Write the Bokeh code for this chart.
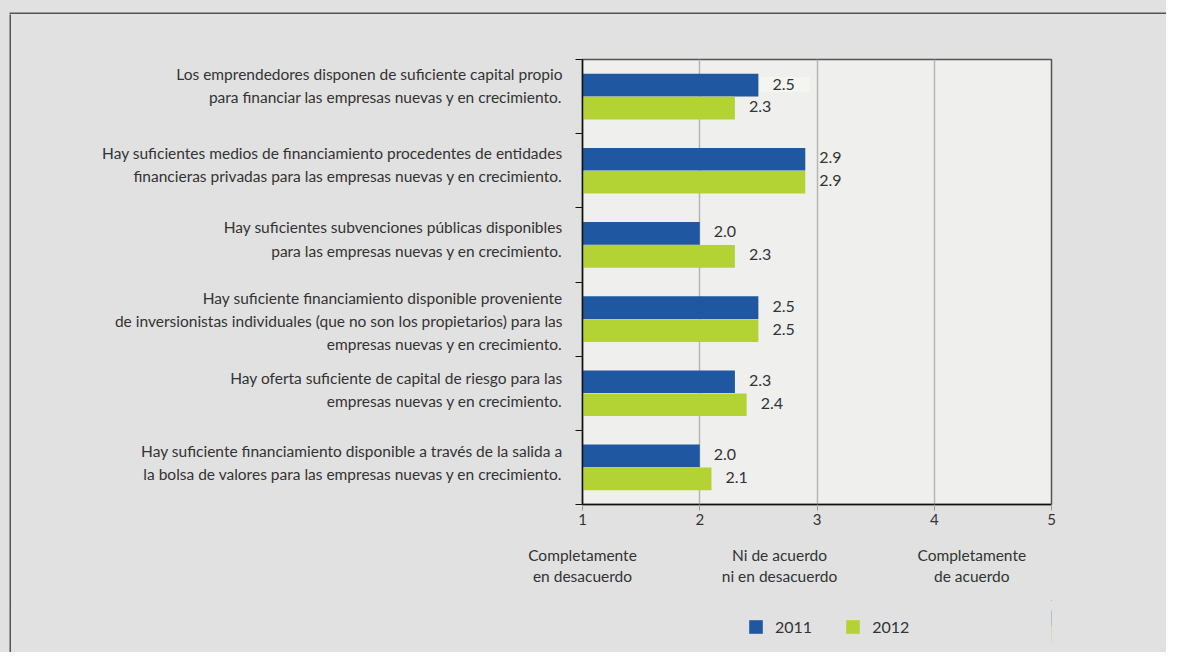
from bokeh.plotting import figure
from bokeh.layouts import column, row
from bokeh.models import (FixedTicker, LinearAxis, Range1d, Legend, LegendItem,
                          ColumnDataSource, CDSView, IndexFilter)
from bokeh.core.properties import value
from bokeh.embed import file_html
from bokeh.resources import INLINE

# ---------------- data ----------------
statements = [
    "Los emprendedores disponen de suficiente capital propio\npara financiar las empresas nuevas y en crecimiento.",
    "Hay suficientes medios de financiamiento procedentes de entidades\nfinancieras privadas para las empresas nuevas y en crecimiento.",
    "Hay suficientes subvenciones públicas disponibles\npara las empresas nuevas y en crecimiento.",
    "Hay suficiente financiamiento disponible proveniente\nde inversionistas individuales (que no son los propietarios) para las\nempresas nuevas y en crecimiento.",
    "Hay oferta suficiente de capital de riesgo para las\nempresas nuevas y en crecimiento.",
    "Hay suficiente financiamiento disponible a través de la salida a\nla bolsa de valores para las empresas nuevas y en crecimiento.",
]
values_2011 = [2.5, 2.9, 2.0, 2.5, 2.3, 2.0]
values_2012 = [2.3, 2.9, 2.3, 2.5, 2.4, 2.1]
series_names = ["2011", "2012"]
x_ticks = [1, 2, 3, 4, 5]
scale_labels = ["Completamente\nen desacuerdo", "Ni de acuerdo\nni en desacuerdo", "Completamente\nde acuerdo"]
scale_label_positions = [1.0, 2.68, 4.32]

# ---------------- style ----------------
FONT = "Lato"
BLUE = "#1f58a0"
GREEN = "#b3d334"
TXT = "#333333"
PAGE_BG = "#e1e1e1"
PLOT_BG = "#efefed"
EDGE = "#555555"
W, H = 1166, 652
TOP_H, LEFT_W, LEG_H = 14, 11, 52
MAIN_W, MAIN_H = W - LEFT_W, H - TOP_H - LEG_H
FRAME_L, FRAME_R = 571, 115
BG_STYLE = {"background-color": PAGE_BG}

n = len(statements)
centers = [n - 0.5 - i for i in range(n)]
label_shift = [0.15, 0.08, 0.08, -0.03, 0.05, 0.06]   # vertical nudge of each label block
label_pos = [c + s for c, s in zip(centers, label_shift)]
boundaries = [float(i) for i in range(n + 1)]
bar_h = 0.305
dodge = 0.155


def strip(w, h, left, top):
    return figure(width=w, height=h, x_range=Range1d(0, 1), y_range=Range1d(0, 1),
                  x_axis_type=None, y_axis_type=None, output_backend="svg", toolbar_location=None,
                  min_border_left=left, min_border_top=top, min_border_right=0, min_border_bottom=0,
                  background_fill_color=EDGE, border_fill_color=PAGE_BG, outline_line_color=None,
                  styles=BG_STYLE)


top_strip = strip(W, TOP_H, 9, 12)
left_strip = strip(LEFT_W, H - TOP_H, 9, 0)

src = ColumnDataSource(dict(
    y1=[c + dodge for c in centers], y2=[c - dodge for c in centers],
    v1=values_2011, v2=values_2012,
    t1=[f"{v:.1f}" for v in values_2011], t2=[f"{v:.1f}" for v in values_2012],
))

p = figure(width=MAIN_W, height=MAIN_H, x_range=Range1d(1, 5), y_range=Range1d(0, n),
           output_backend="svg", toolbar_location=None,
           min_border_left=FRAME_L, min_border_right=FRAME_R, min_border_top=45, min_border_bottom=96,
           background_fill_color=PLOT_BG, border_fill_color=PAGE_BG,
           outline_line_color=EDGE, outline_line_width=1.5, styles=BG_STYLE)

r1 = p.hbar(y="y1", left=1, right="v1", height=bar_h, source=src, fill_color=BLUE, line_color=None)
r2 = p.hbar(y="y2", left=1, right="v2", height=bar_h, source=src, fill_color=GREEN, line_color=None)

# first value label sits on a light box in the original
first_only = CDSView(filter=IndexFilter([0]))
rest = CDSView(filter=IndexFilter(list(range(1, n))))
p.text(x="v1", y="y1", text="t1", source=src, view=first_only, x_offset=2, y_offset=-0.5,
       text_baseline="middle", text_font=value(FONT), text_font_size="16px", text_color=TXT,
       background_fill_color="#f5f5f0", padding=dict(left=12, right=15, top=2, bottom=2))
p.text(x="v1", y="y1", text="t1", source=src, view=rest, x_offset=14, y_offset=-1.5,
       text_baseline="middle", text_font=value(FONT), text_font_size="16px", text_color=TXT)
p.text(x="v2", y="y2", text="t2", source=src, x_offset=14, y_offset=-1.5, text_baseline="middle",
       text_font=value(FONT), text_font_size="16px", text_color=TXT)

# grid
p.ygrid.grid_line_color = None
p.xgrid.ticker = FixedTicker(ticks=x_ticks[1:-1])
p.xgrid.grid_line_color = "#b5b5b8"
p.xgrid.grid_line_width = 1.5

# y axis
ya = p.yaxis[0]
ya.ticker = FixedTicker(ticks=label_pos, minor_ticks=boundaries)
ya.major_label_overrides = {c: s for c, s in zip(label_pos, statements)}
ya.axis_line_color = "#111111"
ya.axis_line_width = 1.5
ya.major_tick_line_color = None
ya.major_tick_out = 0
ya.major_tick_in = 0
ya.minor_tick_line_color = "#111111"
ya.minor_tick_line_width = 1.2
ya.minor_tick_out = 7
ya.minor_tick_in = 0
ya.major_label_standoff = 13
ya.major_label_text_font = FONT
ya.major_label_text_font_size = "15.5px"
ya.major_label_text_color = TXT
ya.major_label_text_line_height = 1.28

# x axis
xa = p.xaxis[0]
xa.ticker = FixedTicker(ticks=x_ticks)
xa.axis_line_color = "#111111"
xa.axis_line_width = 1.5
xa.major_tick_line_color = "#999999"
xa.major_tick_out = 6
xa.major_tick_in = 0
xa.minor_tick_line_color = None
xa.major_label_standoff = 3
xa.major_label_text_font = FONT
xa.major_label_text_font_size = "15px"
xa.major_label_text_color = TXT

xa2 = LinearAxis(ticker=FixedTicker(ticks=scale_label_positions),
                 major_label_overrides={v: s for v, s in zip(scale_label_positions, scale_labels)})
xa2.axis_line_color = None
xa2.major_tick_line_color = None
xa2.minor_tick_line_color = None
xa2.major_tick_out = 0
xa2.major_tick_in = 0
xa2.major_label_standoff = 18
xa2.major_label_text_font = FONT
xa2.major_label_text_font_size = "15.5px"
xa2.major_label_text_color = TXT
xa2.major_label_text_line_height = 1.18
p.add_layout(xa2, "below")

# legend in its own strip below the chart, frame aligned with the chart frame;
# its two series renderers sit outside that strip's visible range
pl = figure(width=MAIN_W, height=LEG_H, x_range=Range1d(-2, -1), y_range=Range1d(0, 1),
            x_axis_type=None, y_axis_type=None, output_backend="svg", toolbar_location=None,
            min_border_left=FRAME_L, min_border_right=FRAME_R, min_border_top=0, min_border_bottom=0,
            background_fill_color=PAGE_BG, border_fill_color=PAGE_BG,
            outline_line_color=PAGE_BG, outline_line_width=3, styles=BG_STYLE)
lr1 = pl.hbar(y="y1", left=1, right="v1", height=bar_h, source=src, fill_color=BLUE, line_color=None)
lr2 = pl.hbar(y="y2", left=1, right="v2", height=bar_h, source=src, fill_color=GREEN, line_color=None)
legend = Legend(items=[LegendItem(label=series_names[0], renderers=[lr1]),
                       LegendItem(label=series_names[1], renderers=[lr2])],
                orientation="horizontal", location=(165, 16))
legend.background_fill_alpha = 0
legend.border_line_color = None
legend.glyph_width = 17
legend.glyph_height = 17
legend.label_standoff = 11
legend.spacing = 32
legend.margin = 0
legend.padding = 0
legend.label_text_font = FONT
legend.label_text_font_size = "16px"
legend.label_text_color = TXT
pl.add_layout(legend)

layout = column(top_strip, row(left_strip, column(p, pl, styles=BG_STYLE), styles=BG_STYLE),
                styles=BG_STYLE)

open("out.html", "w").write(file_html(layout, INLINE))
